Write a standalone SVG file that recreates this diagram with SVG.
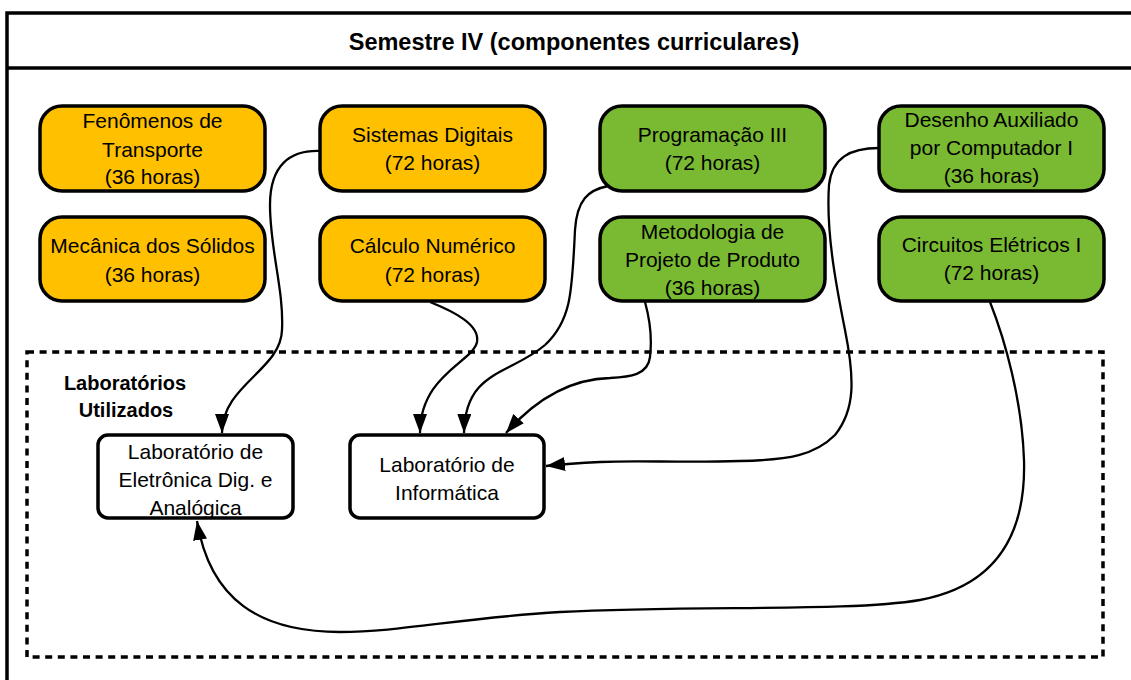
<svg xmlns="http://www.w3.org/2000/svg" width="1131" height="680" viewBox="0 0 1131 680">
  <style>
    .frame { fill: #ffffff; stroke: #000000; stroke-width: 3.5; }
    .title { font-family: "Liberation Sans", Arial, sans-serif; font-weight: bold; font-size: 23.5px; fill: #000000; text-anchor: middle; }
    .course rect { stroke: #000000; stroke-width: 3.5; }
    .orange rect { fill: #FFC000; }
    .green rect { fill: #7AB932; }
    .lab rect { fill: #ffffff; stroke: #000000; stroke-width: 3.5; }
    .label { font-family: "Liberation Sans", Arial, sans-serif; font-size: 21px; fill: #000000; text-anchor: middle; }
    .group-title { font-family: "Liberation Sans", Arial, sans-serif; font-weight: bold; font-size: 20px; fill: #000000; text-anchor: middle; }
    .dashed { fill: none; stroke: #000000; stroke-width: 3.5; stroke-dasharray: 7 5.6; }
    .edge { fill: none; stroke: #000000; stroke-width: 2.3; marker-end: url(#arrow); }
  </style>
  <defs>
    <marker id="arrow" markerUnits="userSpaceOnUse" markerWidth="20" markerHeight="16" refX="19" refY="7" orient="auto">
      <path d="M0,0 L19,7 L0,14 Z" fill="#000000"/>
    </marker>
  </defs>

  <!-- outer panel with title bar -->
  <g id="panel">
    <rect class="frame" x="7" y="13" width="1200" height="720"/>
    <line x1="7" y1="68" x2="1131" y2="68" stroke="#000000" stroke-width="3.5"/>
    <text class="title" x="574" y="50">Semestre IV (componentes curriculares)</text>
  </g>

  <!-- laboratory area -->
  <g id="lab-area">
    <rect class="dashed" x="27" y="352" width="1076" height="305"/>
    <text class="group-title" x="125" y="390">Laboratórios</text>
    <text class="group-title" x="126" y="417">Utilizados</text>
  </g>

  <!-- course nodes -->
  <g id="fenomenos" class="course orange">
    <rect x="40" y="106" width="225" height="85" rx="22"/>
    <text class="label" x="152.5" y="128">Fenômenos de</text>
    <text class="label" x="152.5" y="157">Transporte</text>
    <text class="label" x="152.5" y="184">(36 horas)</text>
  </g>
  <g id="mecanica" class="course orange">
    <rect x="40" y="217" width="225" height="84" rx="22"/>
    <text class="label" x="152.5" y="253">Mecânica dos Sólidos</text>
    <text class="label" x="152.5" y="282">(36 horas)</text>
  </g>
  <g id="sistemas" class="course orange">
    <rect x="320" y="106" width="225" height="85" rx="22"/>
    <text class="label" x="432.5" y="142">Sistemas Digitais</text>
    <text class="label" x="432.5" y="170">(72 horas)</text>
  </g>
  <g id="calculo" class="course orange">
    <rect x="320" y="217" width="225" height="84" rx="22"/>
    <text class="label" x="432.5" y="253">Cálculo Numérico</text>
    <text class="label" x="432.5" y="282">(72 horas)</text>
  </g>
  <g id="programacao" class="course green">
    <rect x="600" y="106" width="225" height="85" rx="22"/>
    <text class="label" x="712.5" y="142">Programação III</text>
    <text class="label" x="712.5" y="170">(72 horas)</text>
  </g>
  <g id="metodologia" class="course green">
    <rect x="600" y="217" width="225" height="84" rx="22"/>
    <text class="label" x="712.5" y="239">Metodologia de</text>
    <text class="label" x="712.5" y="267">Projeto de Produto</text>
    <text class="label" x="712.5" y="295">(36 horas)</text>
  </g>
  <g id="desenho" class="course green">
    <rect x="879" y="106" width="225" height="85" rx="22"/>
    <text class="label" x="991.5" y="127">Desenho Auxiliado</text>
    <text class="label" x="991.5" y="155">por Computador I</text>
    <text class="label" x="991.5" y="183">(36 horas)</text>
  </g>
  <g id="circuitos" class="course green">
    <rect x="879" y="217" width="225" height="84" rx="22"/>
    <text class="label" x="991.5" y="252">Circuitos Elétricos I</text>
    <text class="label" x="991.5" y="280">(72 horas)</text>
  </g>

  <!-- laboratory nodes -->
  <g id="lab-eletronica" class="lab">
    <rect x="98" y="435" width="195" height="83" rx="10"/>
    <text class="label" x="195.5" y="459">Laboratório de</text>
    <text class="label" x="195.5" y="487">Eletrônica Dig. e</text>
    <text class="label" x="195.5" y="515">Analógica</text>
  </g>
  <g id="lab-informatica" class="lab">
    <rect x="350" y="435" width="194" height="83" rx="10"/>
    <text class="label" x="447" y="472">Laboratório de</text>
    <text class="label" x="447" y="500">Informática</text>
  </g>

  <!-- connectors -->
  <g id="connectors">
    <path class="edge" d="M320,151 C290,150 270,165 270,205 C270,250 284,290 282,330 C281,370 222,385 222,433"/>
    <path class="edge" d="M430,302 C455,312 480,325 477,342 C473,362 420,375 420,433"/>
    <path class="edge" d="M608,186 C588,190 577,200 575,230 C572,290 572,320 545,345 C510,375 465,370 464,433"/>
    <path class="edge" d="M645,302 C650,320 652,340 650,357 C648,375 630,377 610,378 C570,379 535,400 506,433"/>
    <path class="edge" d="M879,148 C850,148 832,158 829,185 C826,230 835,280 845,330 C855,380 855,410 835,435 C815,455 790,460 740,461 C680,463 640,460 600,462 C580,463 565,464 546,466"/>
    <path class="edge" d="M990,302 C1005,340 1022,400 1024,460 C1026,530 1000,585 920,600 C850,612 700,605 560,612 C460,618 400,632 340,632 C260,632 210,600 197,521"/>
  </g>
</svg>
